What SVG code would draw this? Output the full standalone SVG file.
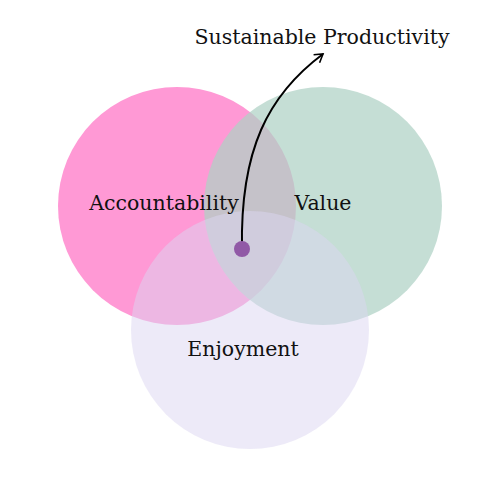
<svg xmlns="http://www.w3.org/2000/svg" width="500" height="500" viewBox="0 0 500 500">
  <style>
    .label { font-family: "DejaVu Serif", "Liberation Serif", serif; font-size: 20.5px; fill: #111; }
    .link { fill: none; stroke: #000; stroke-width: 2; }
  </style>
  <defs>
    <marker id="arrow" viewBox="0 0 12 12" refX="10" refY="6" markerWidth="12" markerHeight="12" markerUnits="userSpaceOnUse" orient="auto">
      <path d="M2,1 L10,6 L2,11" fill="none" stroke="#000" stroke-width="1.6"/>
    </marker>
  </defs>
  <rect width="500" height="500" fill="#fff"/>

  <!-- Venn sets -->
  <g id="accountability">
    <circle cx="177" cy="206" r="119" fill="#ff99d5"/>
  </g>
  <g id="value">
    <circle cx="323" cy="206" r="119" fill="#aed1c5" fill-opacity="0.72"/>
  </g>
  <g id="enjoyment">
    <circle cx="250" cy="330" r="119" fill="#dcd6f2" fill-opacity="0.5"/>
  </g>

  <!-- Labels sit above every circle -->
  <g id="labels">
    <text class="label" x="164" y="210" text-anchor="middle">Accountability</text>
    <text class="label" x="323" y="210" text-anchor="middle">Value</text>
    <text class="label" x="243" y="356" text-anchor="middle">Enjoyment</text>
  </g>
  <g id="sustainable-productivity">
    <text class="label" x="322" y="44" text-anchor="middle">Sustainable Productivity</text>
  </g>

  <g id="connectors">
    <path class="link" d="M242,249 C240,150 268,95 323,54" marker-end="url(#arrow)"/>
    <circle cx="242" cy="249" r="8" fill="#9159a6"/>
  </g>
</svg>
